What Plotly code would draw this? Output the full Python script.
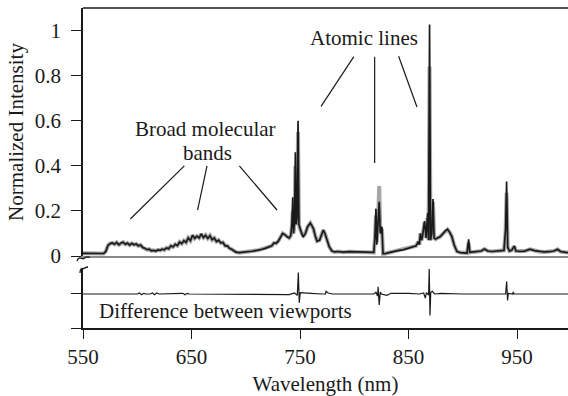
import plotly.graph_objects as go

# ---------------- data ----------------
wavelength = [550, 555, 560, 565, 569, 571, 573, 575, 577, 579, 581, 583, 585, 587, 589, 591, 593, 595, 597, 599,
              601, 603, 605, 607, 609, 611, 613, 615, 617, 619, 621, 623, 625, 627, 629, 631, 633, 635, 637, 639,
              641, 643, 645, 647, 649, 651, 653, 655, 657, 659, 661, 663, 665, 667, 669, 671, 673, 675, 677, 679,
              681, 683, 685, 687, 689, 691, 694, 697, 700, 703, 706, 709, 712, 715, 718, 721, 724, 726, 728, 730,
              732, 734, 736, 738, 740, 741.5, 742.5, 743.3, 744, 745, 745.7, 746.5, 747.3, 748.2, 749, 750, 751.5,
              753, 755, 757, 759.5, 761, 762.5, 764, 765.7, 768, 770, 771.5, 773, 775, 777, 779.5, 782, 785, 790,
              795, 800, 805, 810, 815, 818, 819, 820, 820.8, 821.8, 823, 824, 825.5, 826.5, 828, 832, 836, 840,
              845, 849, 852, 855, 857, 859, 860, 861, 862, 863, 864.8, 866.2, 867.6, 868.5, 869.4, 870.3, 871.5,
              872.6, 873.6, 875, 877, 879.3, 882, 884, 886, 888, 890, 892, 894.7, 897.7, 901, 904, 905.4, 906.5,
              910, 914, 917, 920, 923, 927, 931, 935, 938, 939.5, 940.4, 941.4, 943, 945, 947.5, 949, 953, 957,
              962, 966, 970, 975, 980, 984, 987.4, 990, 995, 997]

viewport2 = [0.012, 0.011, 0.010, 0.010, 0.011, 0.020, 0.047, 0.055, 0.058, 0.052, 0.060, 0.050, 0.058, 0.061, 0.052, 0.057, 0.048, 0.056, 0.050, 0.053,
             0.045, 0.049, 0.038, 0.034, 0.028, 0.030, 0.023, 0.025, 0.022, 0.027, 0.025, 0.030, 0.027, 0.036, 0.032, 0.045, 0.040, 0.052, 0.046, 0.062,
             0.055, 0.068, 0.060, 0.080, 0.068, 0.092, 0.078, 0.088, 0.080, 0.098, 0.082, 0.092, 0.078, 0.090, 0.072, 0.080, 0.064, 0.070, 0.058, 0.060,
             0.045, 0.045, 0.034, 0.030, 0.022, 0.017, 0.015, 0.016, 0.017, 0.019, 0.021, 0.024, 0.026, 0.030, 0.034, 0.040, 0.045, 0.058, 0.056, 0.066,
             0.082, 0.100, 0.095, 0.085, 0.080, 0.090, 0.140, 0.260, 0.100, 0.150, 0.460, 0.140, 0.170, 0.600, 0.140, 0.120, 0.100,
             0.086, 0.100, 0.130, 0.146, 0.135, 0.120, 0.090, 0.066, 0.070, 0.100, 0.115, 0.100, 0.065, 0.040, 0.022, 0.018, 0.020, 0.017,
             0.019, 0.018, 0.016, 0.017, 0.015, 0.016, 0.080, 0.210, 0.050, 0.120, 0.240, 0.100, 0.130, 0.010, 0.010, 0.015, 0.020, 0.024,
             0.027, 0.033, 0.036, 0.040, 0.045, 0.064, 0.050, 0.100, 0.070, 0.090, 0.155, 0.080, 0.190, 0.070, 1.027, 0.070, 0.100,
             0.253, 0.080, 0.075, 0.080, 0.086, 0.100, 0.112, 0.118, 0.105, 0.086, 0.050, 0.020, 0.015, 0.014, 0.013, 0.074, 0.016,
             0.018, 0.020, 0.022, 0.031, 0.022, 0.020, 0.021, 0.022, 0.025, 0.120, 0.330, 0.040, 0.022, 0.025, 0.044, 0.022, 0.020, 0.022,
             0.030, 0.024, 0.020, 0.018, 0.019, 0.022, 0.030, 0.020, 0.016, 0.015]

viewport1 = [0.012, 0.011, 0.010, 0.010, 0.011, 0.020, 0.047, 0.055, 0.058, 0.052, 0.060, 0.050, 0.058, 0.061, 0.052, 0.057, 0.048, 0.056, 0.050, 0.053,
             0.045, 0.049, 0.038, 0.034, 0.028, 0.030, 0.023, 0.025, 0.022, 0.027, 0.025, 0.030, 0.027, 0.036, 0.032, 0.045, 0.040, 0.052, 0.046, 0.062,
             0.055, 0.068, 0.060, 0.080, 0.068, 0.092, 0.078, 0.088, 0.080, 0.098, 0.082, 0.092, 0.078, 0.090, 0.072, 0.080, 0.064, 0.070, 0.058, 0.060,
             0.045, 0.045, 0.034, 0.030, 0.022, 0.017, 0.015, 0.016, 0.017, 0.019, 0.021, 0.024, 0.026, 0.030, 0.034, 0.040, 0.045, 0.058, 0.056, 0.066,
             0.082, 0.100, 0.095, 0.085, 0.080, 0.090, 0.130, 0.200, 0.100, 0.150, 0.400, 0.140, 0.170, 0.550, 0.140, 0.120, 0.100,
             0.086, 0.100, 0.130, 0.146, 0.135, 0.120, 0.090, 0.066, 0.070, 0.100, 0.115, 0.100, 0.065, 0.040, 0.022, 0.018, 0.020, 0.017,
             0.019, 0.018, 0.016, 0.017, 0.015, 0.016, 0.070, 0.180, 0.060, 0.140, 0.310, 0.110, 0.120, 0.010, 0.010, 0.015, 0.020, 0.024,
             0.027, 0.033, 0.036, 0.040, 0.045, 0.064, 0.050, 0.100, 0.070, 0.090, 0.150, 0.080, 0.170, 0.070, 0.840, 0.070, 0.100,
             0.240, 0.080, 0.075, 0.080, 0.086, 0.100, 0.112, 0.118, 0.105, 0.086, 0.050, 0.020, 0.015, 0.014, 0.013, 0.060, 0.016,
             0.018, 0.020, 0.022, 0.031, 0.022, 0.020, 0.021, 0.022, 0.025, 0.110, 0.280, 0.040, 0.022, 0.025, 0.044, 0.022, 0.020, 0.022,
             0.030, 0.024, 0.020, 0.018, 0.019, 0.022, 0.030, 0.020, 0.016, 0.015]

diff_wavelength = [550, 600, 602, 604, 606, 608, 612, 614, 616, 618, 620, 640, 642, 644, 646, 648, 700, 735, 740, 745,
                   747.5, 748.5, 749.3, 750.2, 753, 760, 770, 773.5, 774, 776, 780, 800, 818, 820, 821.5, 822, 823, 824,
                   825, 830, 834, 850, 860, 864, 865.5, 866.5, 868.5, 869.1, 869.8, 870.5, 872, 874, 880, 900, 939.5,
                   940.5, 941.3, 942, 946, 946.6, 947.2, 997]
difference = [0, 0, 0.003, -0.002, 0.002, 0, 0, 0.003, -0.002, 0.003, 0, 0, 0.002, -0.002, 0.002, 0, 0, 0, -0.002, 0.003,
              -0.004, 0.063, -0.026, 0.004, 0.003, 0.002, 0, 0, 0.008, 0.003, 0, 0, 0, 0.005, -0.006, 0.021, -0.032, 0.006,
              0, -0.004, 0.002, 0.002, 0, 0.003, -0.012, 0.004, -0.003, 0.074, -0.063, 0.005, 0.008, 0, 0.002, 0, 0,
              0.037, -0.019, 0.002, 0, 0.006, 0, 0]

x_ticks = [550, 650, 750, 850, 950]
y_ticks = [0, 0.2, 0.4, 0.6, 0.8, 1]
y_ticktext = ["0", "0.2", "0.4", "0.6", "0.8", "1"]

# ---------------- figure ----------------
W, H = 568, 396
ML, MR, MT, MB = 83, 0, 8, 68
PW, PH = W - ML - MR, H - MT - MB
FONT = "Liberation Serif, Times New Roman, serif"
INK = "#1a1a1a"


def px(xp, yp):
    """pixel -> paper coordinates (for decorations only)"""
    return (xp - ML) / PW, (H - MB - yp) / PH


fig = go.Figure()
fig.add_trace(go.Scatter(x=wavelength, y=viewport1, mode="lines",
                         line=dict(color="#a6a6a6", width=4), xaxis="x", yaxis="y",
                         hoverinfo="skip"))
fig.add_trace(go.Scatter(x=wavelength, y=viewport2, mode="lines",
                         line=dict(color=INK, width=1.7), xaxis="x", yaxis="y"))
fig.add_trace(go.Scatter(x=diff_wavelength, y=difference, mode="lines",
                         line=dict(color=INK, width=1.2), xaxis="x2", yaxis="y2"))

axis_font = dict(family=FONT, size=21, color=INK)

fig.update_layout(
    width=W, height=H,
    margin=dict(l=ML, r=MR, t=MT, b=MB, pad=0),
    paper_bgcolor="white", plot_bgcolor="white",
    showlegend=False,
    font=axis_font,
    xaxis=dict(domain=[0, 1], range=[550, 997], anchor="y",
               showline=True, linecolor="#8a8a8a", linewidth=2,
               showticklabels=False, ticks="", showgrid=False, zeroline=False),
    xaxis2=dict(domain=[0, 1], range=[550, 997], anchor="y2",
                tickvals=x_ticks, ticks="outside", ticklen=9, tickwidth=1.3, tickcolor=INK,
                showline=True, linecolor=INK, linewidth=1.5,
                showgrid=False, zeroline=False, tickfont=axis_font,
                title=dict(text="Wavelength (nm)", font=axis_font, standoff=9)),
    yaxis=dict(domain=[(H - MB - 256) / PH, 1], range=[0, 1.1], anchor="x",
               tickvals=y_ticks, ticktext=y_ticktext, ticks="outside", ticklen=10,
               tickwidth=1.3, tickcolor=INK, showline=True, linecolor=INK, linewidth=1.5,
               showgrid=False, zeroline=False, tickfont=axis_font, ticklabelstandoff=6,
               title=dict(text="Normalized Intensity", font=axis_font, standoff=5)),
    yaxis2=dict(domain=[0, (H - MB - 269) / PH], range=[-0.1, 0.0735], anchor="x2",
                tickvals=[0, -0.1], showticklabels=False, ticks="outside", ticklen=10,
                tickwidth=1.3, tickcolor=INK, showline=True, linecolor=INK, linewidth=1.5,
                showgrid=False, zeroline=False),
)

shapes = []
# top frame line
shapes.append(dict(type="line", xref="x domain", yref="y domain", x0=0, x1=1, y0=1, y1=1,
                   line=dict(color=INK, width=1.5)))
# annotation pointer lines (data coordinates of the upper panel)
pointers = [((799.6, 0.884), (769.4, 0.664)),
            ((818.8, 0.884), (818.8, 0.412)),
            ((840.9, 0.886), (857.8, 0.661)),
            ((643.4, 0.400), (593.6, 0.164)),
            ((664.3, 0.400), (655.6, 0.204)),
            ((694.1, 0.400), (728.8, 0.204))]
for (xa, ya), (xb, yb) in pointers:
    shapes.append(dict(type="line", xref="x", yref="y", x0=xa, y0=ya, x1=xb, y1=yb,
                       line=dict(color=INK, width=1.2)))


def path_from(points):
    cmds = []
    p = [px(*pt) for pt in points]
    cmds.append(f"M {p[0][0]:.5f},{p[0][1]:.5f}")
    for i in range(1, len(p), 3):
        a, b, c = p[i], p[i + 1], p[i + 2]
        cmds.append(f"C {a[0]:.5f},{a[1]:.5f} {b[0]:.5f},{b[1]:.5f} {c[0]:.5f},{c[1]:.5f}")
    return " ".join(cmds)


# axis-break squiggles
shapes.append(dict(type="path", xref="paper", yref="paper",
                   path=path_from([(77, 261), (79, 255), (82, 260), (84, 258.5),
                                   (86, 257), (87, 256), (90, 257.5)]),
                   line=dict(color=INK, width=1.3)))
shapes.append(dict(type="path", xref="paper", yref="paper",
                   path=path_from([(80, 273), (80, 269), (82, 268), (83, 268.5),
                                   (84, 269), (85, 267), (88, 267)]),
                   line=dict(color=INK, width=1.3)))
fig.update_layout(shapes=shapes)

ann_font = dict(family=FONT, size=21, color=INK)
fig.add_annotation(x=809.3, y=0.969, xref="x", yref="y", text="Atomic lines",
                   showarrow=False, font=ann_font, xanchor="center", yanchor="middle")
fig.add_annotation(x=663.2, y=0.5645, xref="x", yref="y", text="Broad molecular",
                   showarrow=False, font=ann_font, xanchor="center", yanchor="middle")
fig.add_annotation(x=664.3, y=0.4575, xref="x", yref="y", text="bands",
                   showarrow=False, font=ann_font, xanchor="center", yanchor="middle")
fig.add_annotation(x=563.2, y=-0.05, xref="x2", yref="y2", text="Difference between viewports",
                   showarrow=False, font=ann_font, xanchor="left", yanchor="middle")

fig.write_html("out.html")
